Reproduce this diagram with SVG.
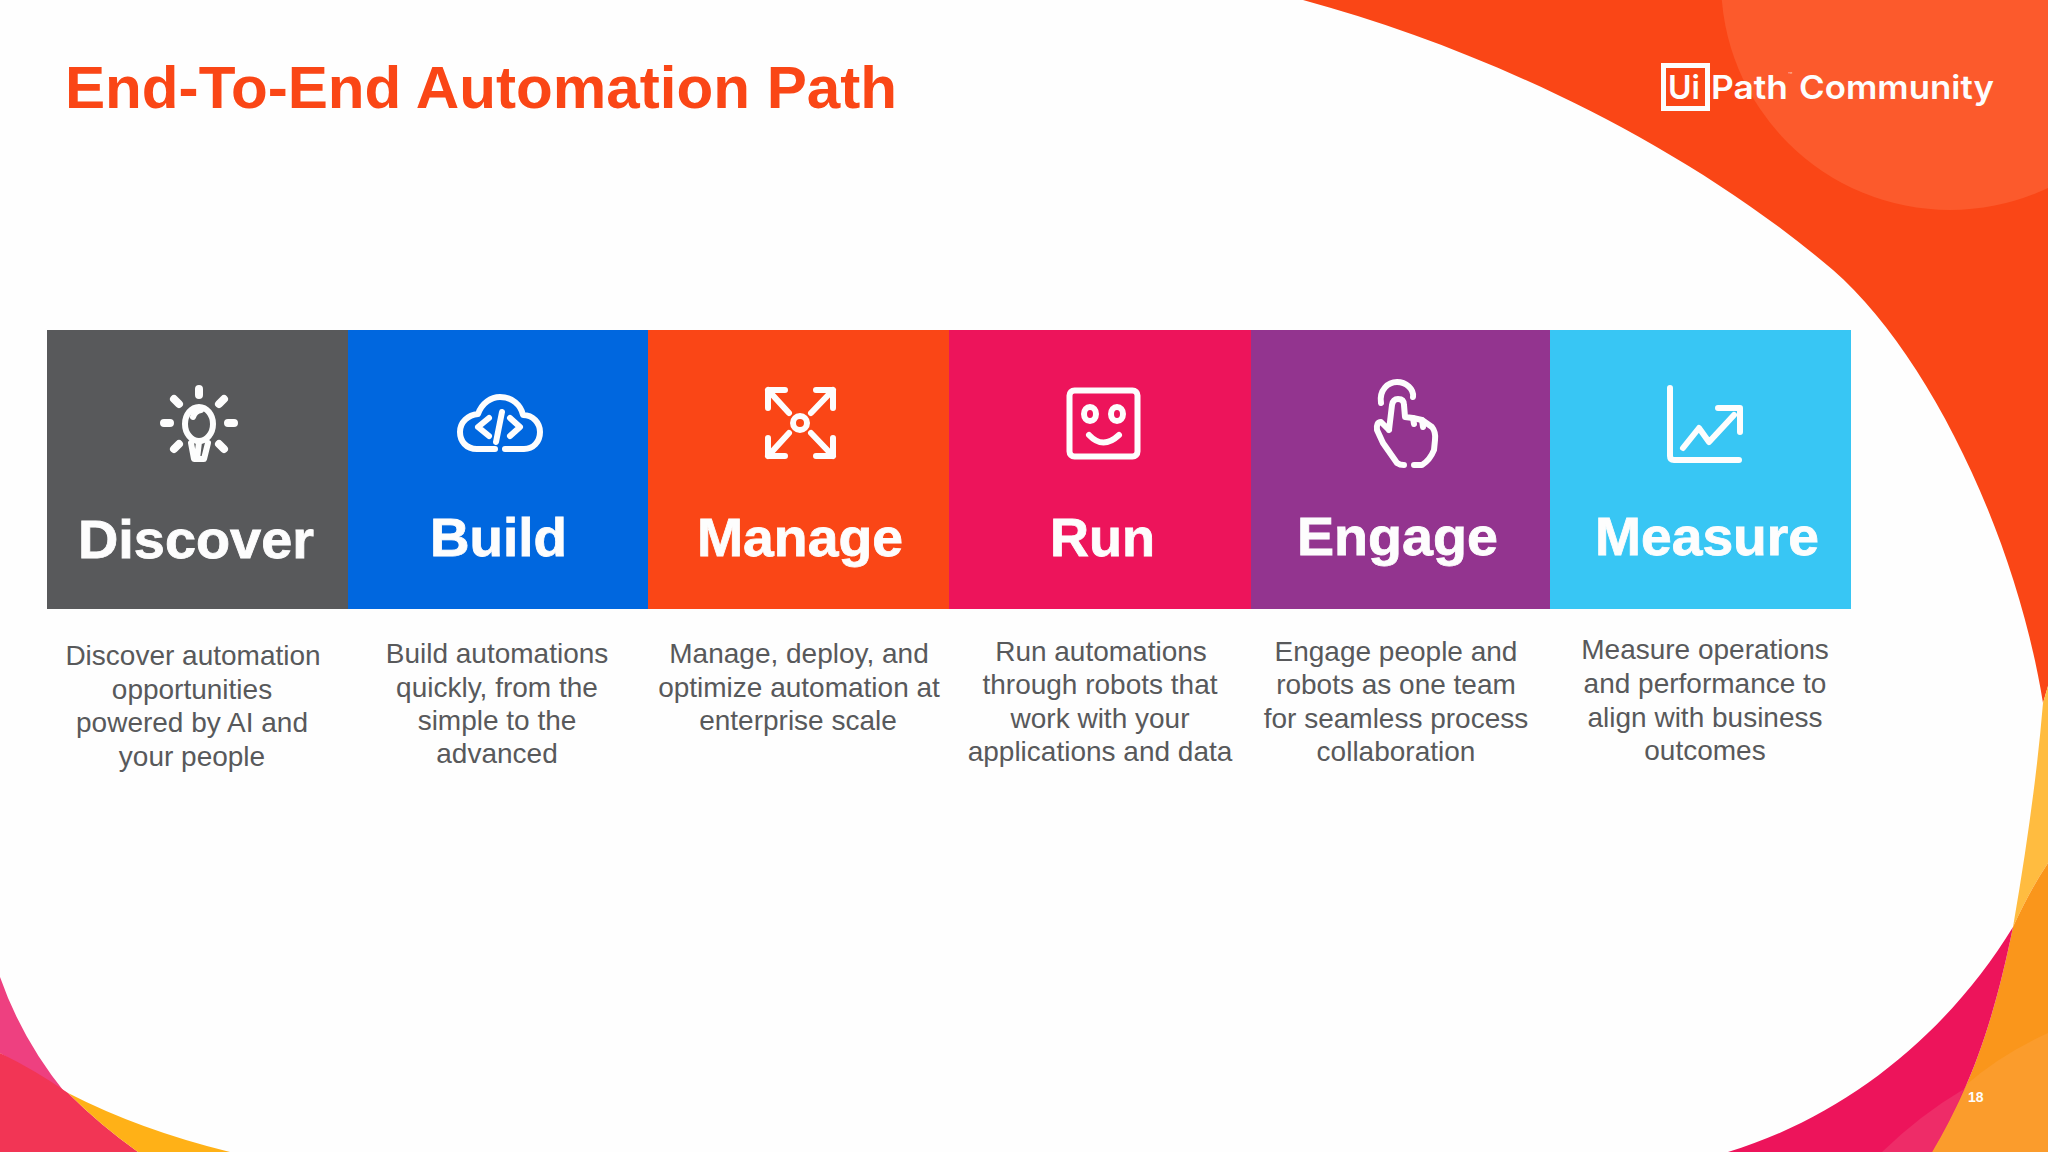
<svg xmlns="http://www.w3.org/2000/svg" width="2048" height="1152" viewBox="0 0 2048 1152">
<style>
.label{font-family:"Liberation Sans",Arial,sans-serif;font-weight:700;font-size:54px;fill:#fdfdfd;stroke:#fdfdfd;stroke-width:0.8}
.desc{font-family:"Liberation Sans",Arial,sans-serif;font-size:28px;fill:#58595b;text-anchor:middle}
.ico{fill:none;stroke:#fdfdfd;stroke-width:6;stroke-linecap:round;stroke-linejoin:round}
.ray{stroke-width:8}
.logo{font-family:Inter,"Open Sans",sans-serif;font-weight:600;font-size:33px;fill:#fdfdfd}
</style>
<rect width="2048" height="1152" fill="#fefefe"/>
<g id="background">
<path d="M1303,0 C1480,48 1680,140 1833,270 C1925,350 2015,530 2043,703 L2048,686 L2048,0Z" fill="#fa4616"/>
<circle cx="1950" cy="-19" r="229" fill="#fc5a2c"/>
<path d="M2043,703 Q2035,800 2013,927 Q2030,890 2048,863 L2048,686Z" fill="#ffbc40"/>
<path d="M2013,927 Q2030,890 2048,863 L2048,1152 L1932,1152 C1965,1095 1990,1040 2013,927Z" fill="#fa961b"/>
<path d="M2048,1033 Q2000,1055 1966,1085 C1955,1110 1945,1130 1932,1152 L2048,1152Z" fill="#fb9c2c"/>
<path d="M1728,1152 C1850,1115 1950,1030 2013,927 C1990,1040 1965,1095 1932,1152Z" fill="#ed145b"/>
<path d="M1882,1152 Q1920,1115 1964,1089 Q1950,1122 1932,1152Z" fill="#ee2c68"/>
<path d="M0,977 Q22,1040 66,1094 L0,1053Z" fill="#ee4080"/>
<path d="M0,1053 Q35,1070 68,1093 Q100,1125 138,1152 L0,1152Z" fill="#f23555"/>
<path d="M68,1093 Q140,1130 230,1152 L138,1152 Q100,1125 68,1093Z" fill="#ffb117"/>
</g>
<text id="title" x="65" y="108" font-family="'Liberation Sans',Arial,sans-serif" font-weight="700" font-size="60" fill="#fa4616" textLength="832" lengthAdjust="spacingAndGlyphs">End-To-End Automation Path</text>
<g id="logo">
<rect x="1663.500" y="65.500" width="44" height="43" fill="none" stroke="#fdfdfd" stroke-width="5"/>
<text class="logo" x="1668" y="99" textLength="32" lengthAdjust="spacingAndGlyphs">Ui</text>
<text class="logo" x="1711" y="99" textLength="77" lengthAdjust="spacingAndGlyphs">Path</text>
<text x="1788" y="78" font-family="Inter,sans-serif" font-size="7" fill="#fdfdfd" opacity="0.7">™</text>
<text class="logo" x="1799" y="99" textLength="195" lengthAdjust="spacingAndGlyphs">Community</text>
</g>
<g id="node-discover">
<rect x="47" y="330" width="301" height="279" fill="#58595b"/>
<path class="ico ray" d="M199,389V395M164,423H170M228,423H234M174,399L179,404M224,399L219,404M174,449L179,444M224,449L219,444"/>
<ellipse class="ico" stroke-width="7" cx="199" cy="424" rx="14" ry="17"/>
<path class="ico" d="M191,443L194,459H204L208,443M199,442L197,459"/>
<path class="ico" stroke-width="3" d="M193,417Q195,411 201,410"/>
<text class="label" x="78" y="558" textLength="236" lengthAdjust="spacingAndGlyphs">Discover</text>
<text class="desc"><tspan x="193" y="665">Discover automation</tspan><tspan x="192" y="699">opportunities</tspan><tspan x="192" y="732">powered by AI and</tspan><tspan x="192" y="766">your people</tspan></text>
</g>
<g id="node-build">
<rect x="348" y="330" width="300" height="279" fill="#0067df"/>
<path class="ico" d="M495,449H477C466,449 460,441 460,432C460,422 468,415 478,414C482,403 491,397 500,397C512,397 521,405 523,415C533,415 540,423 540,432C540,442 533,449 524,449H505"/>
<path class="ico" stroke-width="5" d="M489,418L478,427L489,436M502,412L496,442M510,418L520,427L510,436"/>
<text class="label" x="430" y="556" textLength="137" lengthAdjust="spacingAndGlyphs">Build</text>
<text class="desc"><tspan x="497" y="663">Build automations</tspan><tspan x="497" y="697">quickly, from the</tspan><tspan x="497" y="730">simple to the</tspan><tspan x="497" y="763">advanced</tspan></text>
</g>
<g id="node-manage">
<rect x="648" y="330" width="301" height="279" fill="#fa4616"/>
<circle class="ico" cx="800" cy="423" r="7"/>
<path class="ico" stroke-linecap="butt" stroke-linejoin="miter" stroke-width="6.500" d="M785,390H768V408M768,390L789,413M816,390H833V408M833,390L811,413M785,456H768V438M768,456L789,433M816,456H833V438M833,456L811,433"/>
<text class="label" x="697" y="556" textLength="206" lengthAdjust="spacingAndGlyphs">Manage</text>
<text class="desc"><tspan x="799" y="663">Manage, deploy, and</tspan><tspan x="799" y="697">optimize automation at</tspan><tspan x="798" y="730">enterprise scale</tspan></text>
</g>
<g id="node-run">
<rect x="949" y="330" width="302" height="279" fill="#ed145b"/>
<rect class="ico" x="1069.500" y="390.500" width="68" height="66" rx="5"/>
<ellipse class="ico" stroke-width="4.500" cx="1090" cy="414" rx="6" ry="7"/>
<ellipse class="ico" stroke-width="4.500" cx="1117" cy="414" rx="6" ry="7"/>
<path class="ico" d="M1089,435Q1103,450 1119,435"/>
<text class="label" x="1050" y="556" textLength="105" lengthAdjust="spacingAndGlyphs">Run</text>
<text class="desc"><tspan x="1101" y="661">Run automations</tspan><tspan x="1100" y="694">through robots that</tspan><tspan x="1100" y="728">work with your</tspan><tspan x="1100" y="761">applications and data</tspan></text>
</g>
<g id="node-engage">
<rect x="1251" y="330" width="299" height="279" fill="#93348f"/>
<path class="ico" stroke-width="5.500" d="M1381,403C1379,390 1388,382 1397,382C1406,382 1414,389 1413,397M1389,430L1392,405Q1393,399 1398,399Q1404,399 1404,405L1405,417L1413,418L1422,420L1432,427Q1436,432 1435,440L1434,450Q1430,460 1422,465H1414M1389,430L1381,422Q1376,422 1377,430L1383,443L1397,463Q1400,465 1404,465"/>
<path class="ico" stroke-width="3.500" d="M1413,418L1414,424M1422,420L1423,427"/>
<text class="label" x="1297" y="555" textLength="201" lengthAdjust="spacingAndGlyphs">Engage</text>
<text class="desc"><tspan x="1396" y="661">Engage people and</tspan><tspan x="1396" y="694">robots as one team</tspan><tspan x="1396" y="728">for seamless process</tspan><tspan x="1396" y="761">collaboration</tspan></text>
</g>
<g id="node-measure">
<rect x="1550" y="330" width="301" height="279" fill="#38c6f4"/>
<path class="ico" stroke-width="7" d="M1670,388V456Q1670,460 1674,460H1739M1683,448L1699,428L1709,442L1734,415"/>
<path class="ico" stroke-width="7" stroke-linecap="butt" stroke-linejoin="miter" d="M1718,408H1740V432"/>
<text class="label" x="1595" y="555" textLength="224" lengthAdjust="spacingAndGlyphs">Measure</text>
<text class="desc"><tspan x="1705" y="659">Measure operations</tspan><tspan x="1705" y="693">and performance to</tspan><tspan x="1705" y="727">align with business</tspan><tspan x="1705" y="760">outcomes</tspan></text>
</g>
<text id="page-number" x="1968" y="1102" font-family="'Liberation Sans',Arial,sans-serif" font-weight="700" font-size="14" fill="#fdfdfd">18</text>
</svg>
